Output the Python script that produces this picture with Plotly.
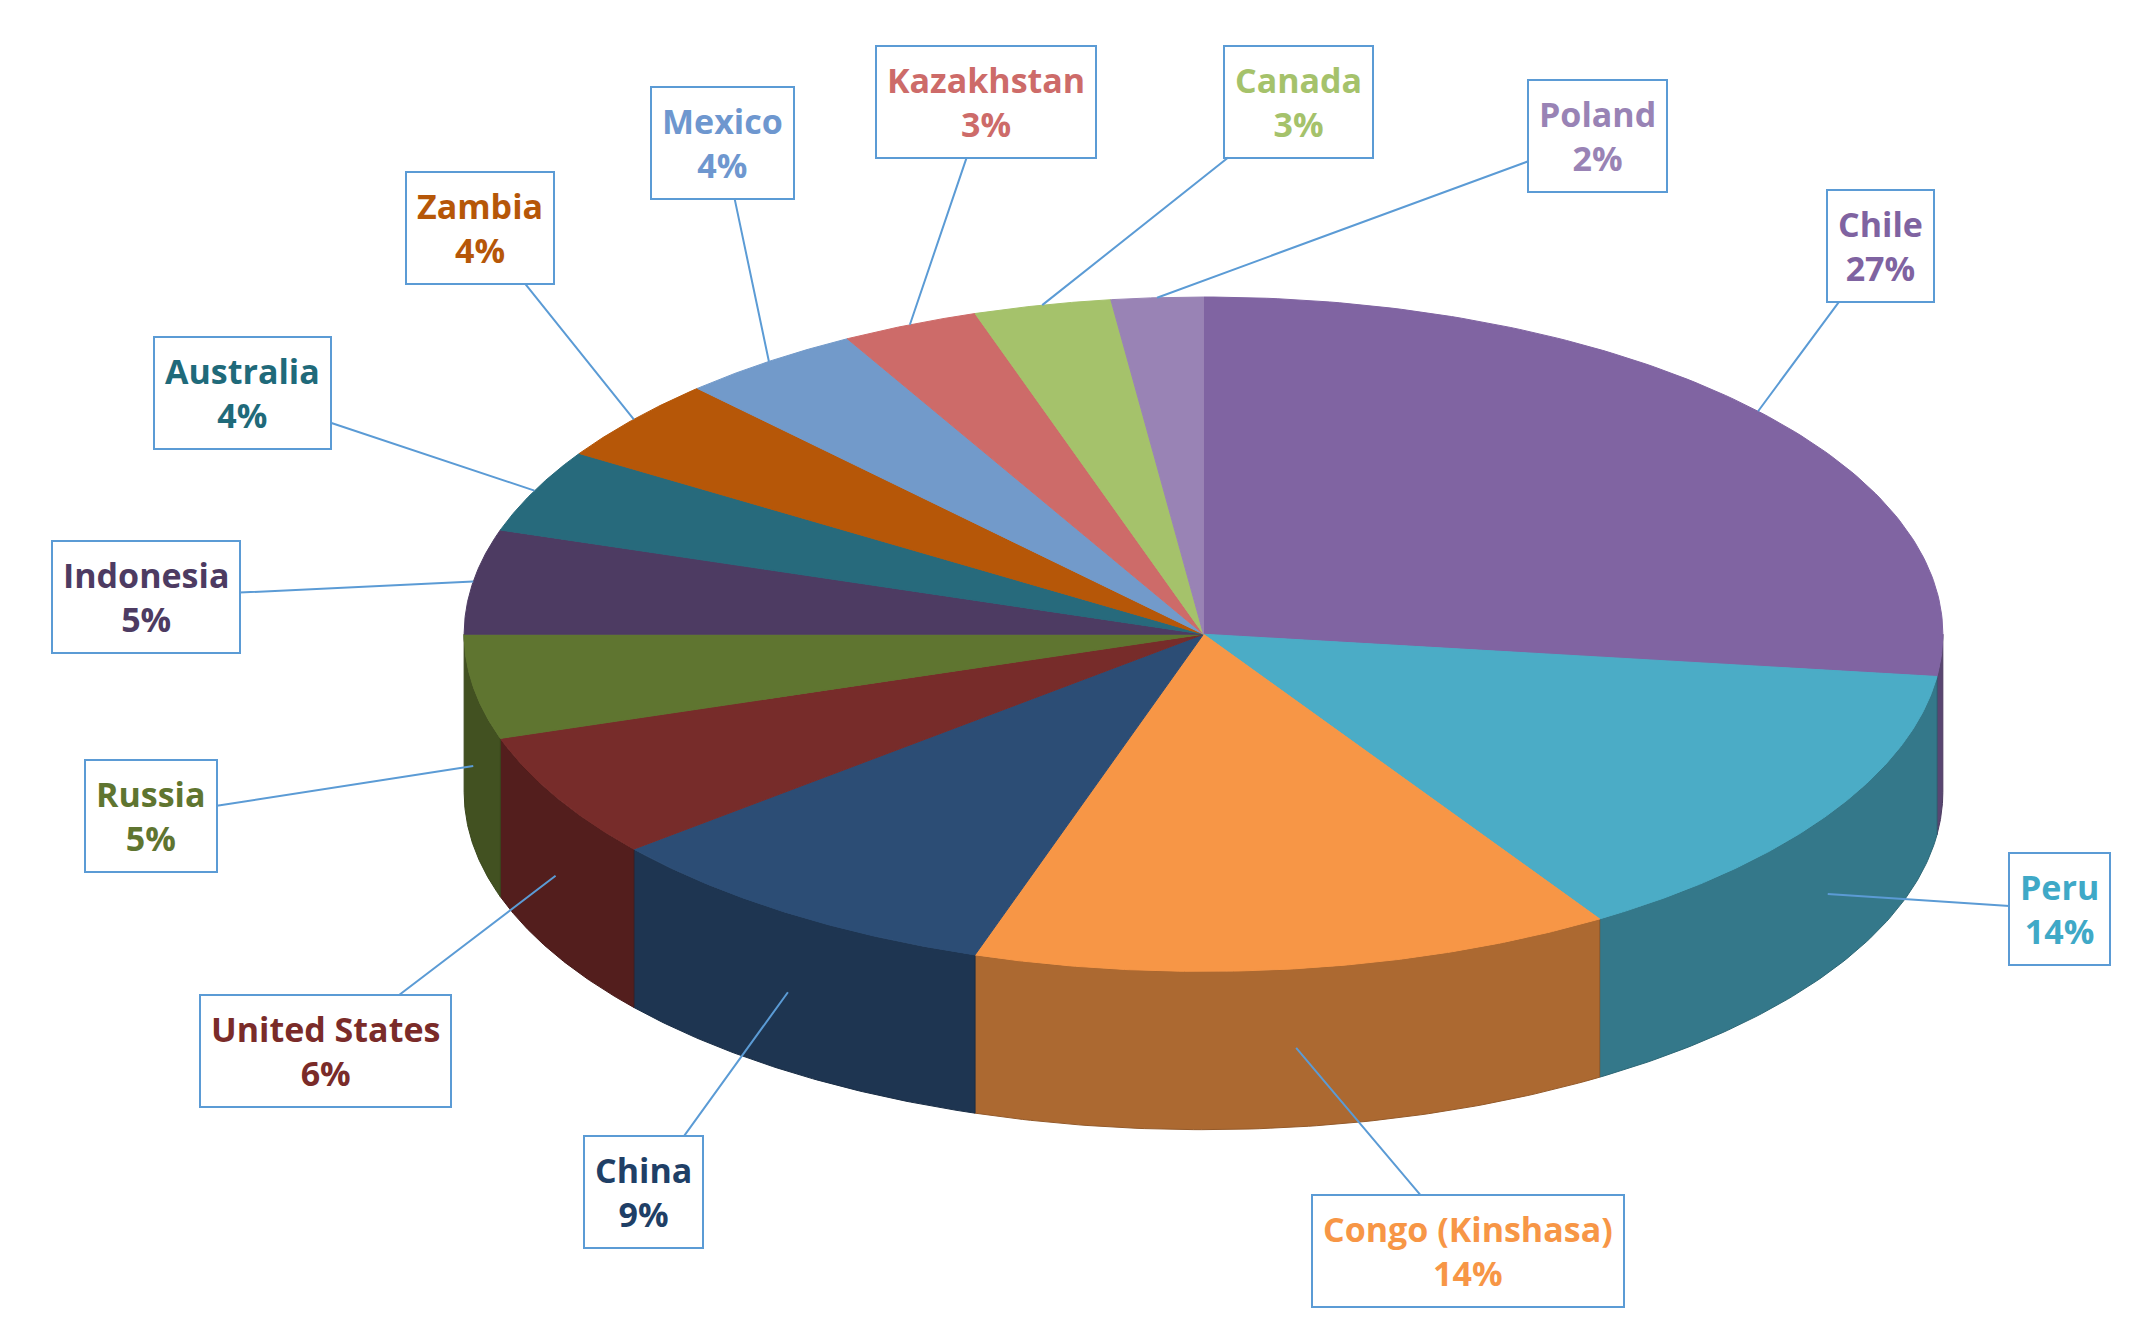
import numpy as np
import plotly.graph_objects as go

countries = ["Chile", "Peru", "Congo (Kinshasa)", "China", "United States", "Russia",
             "Indonesia", "Australia", "Zambia", "Mexico", "Kazakhstan", "Canada", "Poland"]
shares = [27, 14, 14, 9, 6, 5, 5, 4, 4, 4, 3, 3, 2]
colors = ["#8064A2", "#4BACC6", "#F79646", "#2C4D75", "#772C2A", "#5F7530", "#4D3B62",
          "#276A7C", "#B65708", "#729ACA", "#CD6B69", "#A5C26B", "#9983B5"]
text_colors = ["#7F63A1", "#3FA9C7", "#F79646", "#1F3F66", "#7A2B29", "#5F7530", "#4D3B62",
               "#1F6A7A", "#B65708", "#6E97CF", "#CD6B69", "#A5C26B", "#9983B5"]
label_pos = [(1375, 173), (1507, 655), (1072, 903), (467, 860), (233, 758), (105, 587),
             (101, 428), (172, 280), (347, 160), (525, 98), (718, 68), (948, 68), (1167, 93)]

cx, cy, rx, ry, depth = 878, 455, 543, 245, 115

def darker(h, f=0.7):
    h = h.lstrip("#")
    r, g, b = (int(h[i:i+2], 16) for i in (0, 2, 4))
    return f"rgb({int(r*f)},{int(g*f)},{int(b*f)})"

def pt(th):
    return cx + rx*np.sin(th), cy - ry*np.cos(th)

fig = go.Figure()
total = sum(shares)
bounds = np.cumsum([0] + shares) / total * 2*np.pi
sides, tops, mids = [], [], []
for i, c in enumerate(colors):
    a0, a1 = bounds[i], bounds[i+1]
    mids.append((a0+a1)/2)
    lo, hi = max(a0, np.pi/2), min(a1, 3*np.pi/2)
    if hi > lo:
        th = np.linspace(lo, hi, 80)
        x, y = pt(th)
        xs = np.concatenate([x, x[::-1], [x[0]]])
        ys = np.concatenate([y, y[::-1]+depth, [y[0]]])
        sides.append(go.Scatter(x=xs, y=ys, fill="toself", fillcolor=darker(c),
                                line=dict(color=darker(c, 0.6), width=1), mode="lines",
                                hoverinfo="skip", showlegend=False))
    th = np.linspace(a0, a1, 120)
    x, y = pt(th)
    tops.append(go.Scatter(x=np.concatenate([[cx], x, [cx]]), y=np.concatenate([[cy], y, [cy]]),
                           fill="toself", fillcolor=c, line=dict(color=c, width=1),
                           mode="lines", name=countries[i], showlegend=False))
for t in sides + tops:
    fig.add_trace(t)

for i, name in enumerate(countries):
    th = mids[i]
    px, py = pt(th)
    if np.cos(th) < 0:
        py += depth*0.5
    lx, ly = label_pos[i]
    fig.add_annotation(x=px, y=py, ax=lx, ay=ly, xref="x", yref="y", axref="x", ayref="y",
                       text=f"<b>{name}<br>{shares[i]}%</b>", showarrow=True, arrowhead=0,
                       arrowcolor="#5B9BD5", arrowwidth=2, standoff=0,
                       font=dict(family="Open Sans", size=34, color=text_colors[i]),
                       bordercolor="#5B9BD5", borderwidth=2, borderpad=10, bgcolor="white")

fig.update_layout(width=2135, height=1335, margin=dict(l=0, r=0, t=0, b=0),
                  plot_bgcolor="white", paper_bgcolor="white",
                  xaxis=dict(range=[0, 1568], visible=False),
                  yaxis=dict(range=[970, 0], visible=False))
fig.write_html("out.html")
